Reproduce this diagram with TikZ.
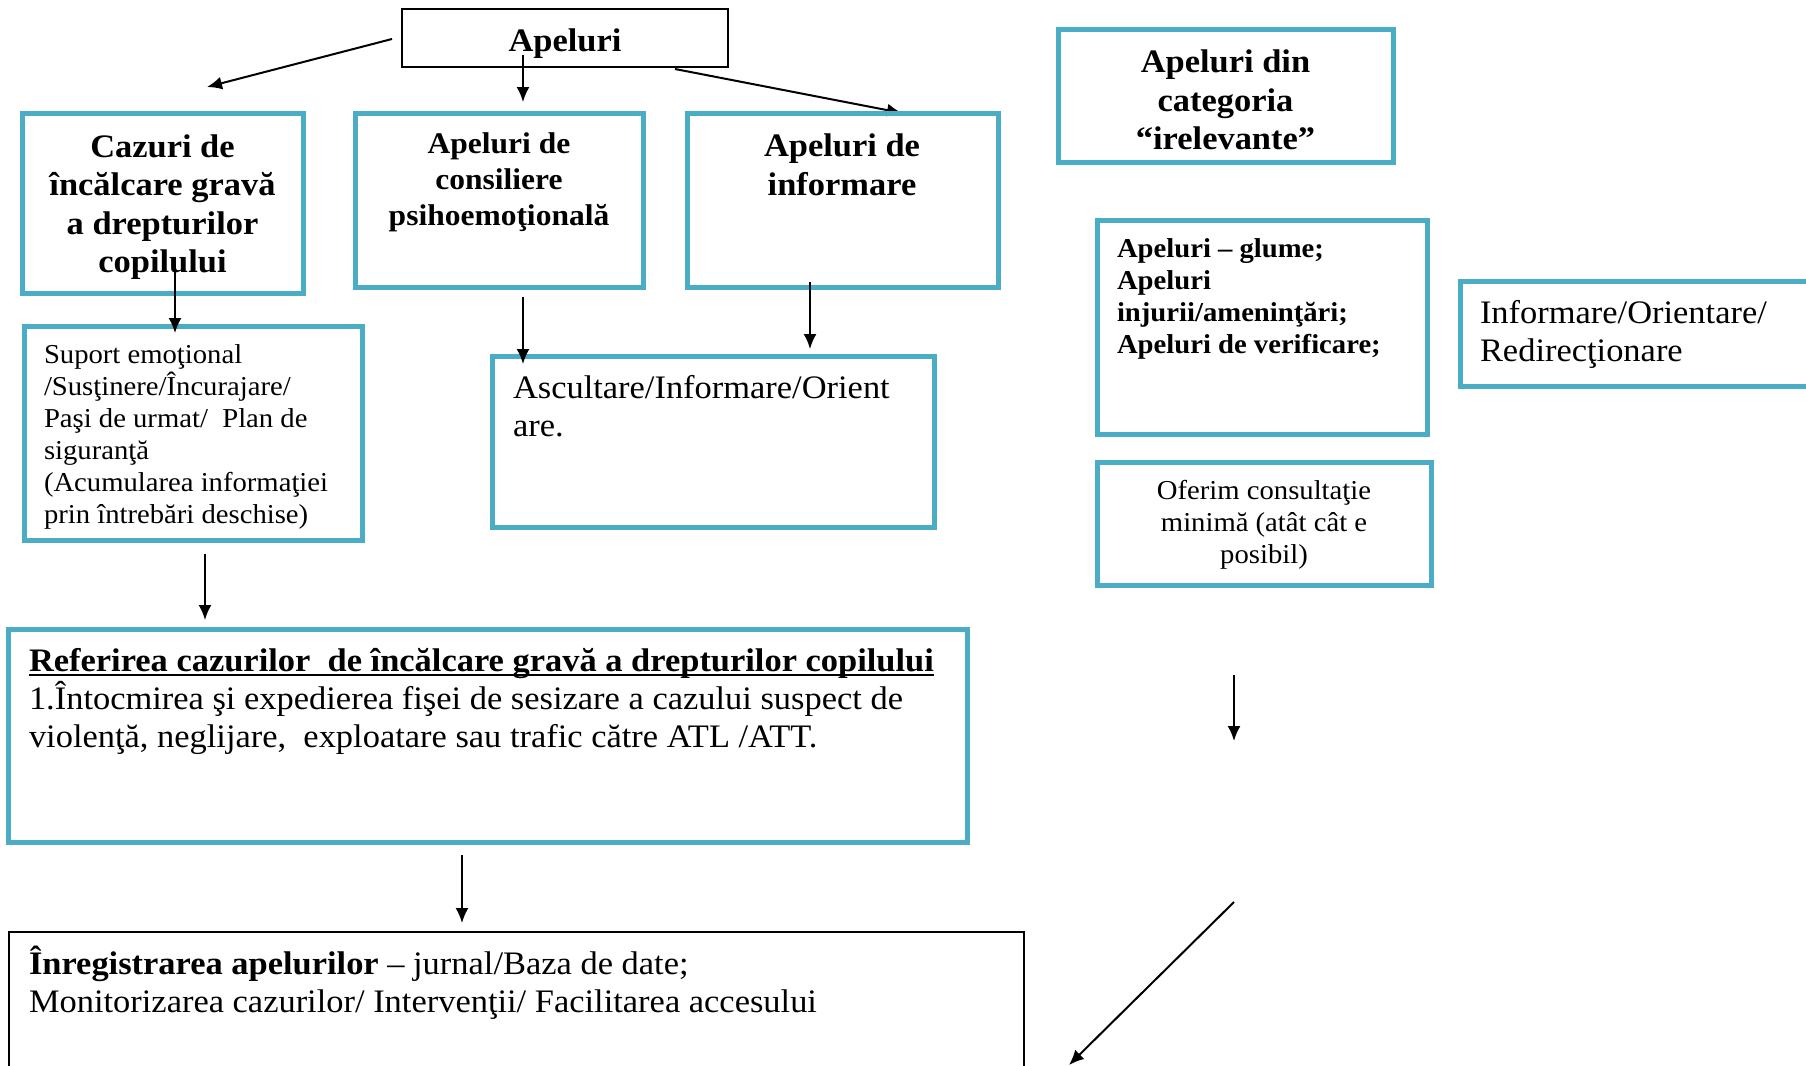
\documentclass[tikz,border=0pt]{standalone}
\usepackage{fontspec}
\setmainfont{Liberation Serif}[FakeStretch=1.05]
\usetikzlibrary{arrows.meta}
\definecolor{aqua}{HTML}{4BACC6}
\newcommand{\fBig}{\fontsize{32.8}{38.4}\selectfont}
\newcommand{\fMid}{\fontsize{30}{35.6}\selectfont}
\newcommand{\fSml}{\fontsize{27.3}{32}\selectfont}
\newcommand{\myul}[1]{\setbox0\hbox{#1}\rlap{\rule[-5pt]{\wd0}{2.2pt}}\box0}
\tikzset{
  cbox/.style={draw=aqua, line width=5pt, inner sep=0pt, align=center},
  kbox/.style={draw=black, line width=2pt, inner sep=0pt, align=center},
  arr/.style={-{Latex[length=15pt,width=13pt]}, line width=2pt},
  txt/.style={inner sep=0pt, outer sep=0pt},
}
\begin{document}
\begin{tikzpicture}[x=1pt,y=-1pt]
\useasboundingbox (0,0) rectangle (1806,1065);
% arrow partly behind the box border
\coordinate (c1) at (675,69);
\coordinate (c2) at (902,113);
\draw[arr] (c1) -- (c2);
% boxes
\node[kbox, minimum width=326, minimum height=58] (apel) at (565,38) {};
\node[cbox, minimum width=281, minimum height=180] (cazuri) at (162.5,203) {};
\node[cbox, minimum width=288, minimum height=174] (consil) at (499,200) {};
\node[cbox, minimum width=311, minimum height=174] (inform) at (842.5,200) {};
\node[cbox, minimum width=335, minimum height=132] (categ) at (1225.5,96) {};
\node[cbox, minimum width=330, minimum height=214] (glume) at (1262,327) {};
\node[cbox, minimum width=370, minimum height=105] (redir) at (1645,333.5) {};
\node[cbox, minimum width=334, minimum height=123] (oferim) at (1264,523.5) {};
\node[cbox, minimum width=338, minimum height=214] (suport) at (193,433) {};
\node[cbox, minimum width=442, minimum height=171] (ascult) at (713,441.5) {};
\node[cbox, minimum width=959, minimum height=213] (refer) at (487.5,735.5) {};
\node[kbox, minimum width=1015, minimum height=168] (inreg) at (516.5,1016) {};
% texts
\node[txt, align=center, font=\fBig\bfseries] (tapel) at (565,44) {Apeluri};
\node[txt, align=center, font=\fBig\bfseries] (tcazuri) at (162.5,207) {Cazuri de\\încălcare gravă\\a drepturilor\\copilului};
\node[txt, align=center, font=\fBig\bfseries] (tcateg) at (1225.5,100) {Apeluri din\\categoria\\“irelevante”};
\node[txt, align=center, font=\fSml] (toferim) at (1264,525) {Oferim consultaţie\\minimă (atât cât e\\posibil)};
\node[txt, anchor=north, align=center, font=\fMid\bfseries] (tconsil) at (499,133) {Apeluri de\\consiliere\\psihoemoţională};
\node[txt, anchor=north, align=center, font=\fBig\bfseries] (tinform) at (842,134) {Apeluri de\\informare};
\node[txt, anchor=north west, align=left, font=\fSml\bfseries] (tglume) at (1117,238.5) {Apeluri – glume;\\Apeluri\\injurii/ameninţări;\\Apeluri de verificare;};
\node[txt, anchor=north west, align=left, font=\fBig] (tredir) at (1480,300) {Informare/Orientare/\\Redirecţionare};
\node[txt, anchor=north west, align=left, font=\fSml] (tsuport) at (44,345) {Suport emoţional\\/Susţinere/Încurajare/\\Paşi de urmat/\ \ Plan de\\siguranţă\\(Acumularea informaţiei\\prin întrebări deschise)};
\node[txt, anchor=north west, align=left, font=\fBig] (tascult) at (513,375) {Ascultare/Informare/Orient\\are.};
\node[txt, anchor=north west, align=left, font=\fBig] (trefer) at (29,648) {\myul{\textbf{Referirea cazurilor\ \ de încălcare gravă a drepturilor copilului}}\\1.Întocmirea şi expedierea fişei de sesizare a cazului suspect de\\violenţă, neglijare,\ \ exploatare sau trafic către ATL /ATT.};
\node[txt, anchor=north west, align=left, font=\fBig] (tinreg) at (29,946) {\textbf{Înregistrarea apelurilor} – jurnal/Baza de date;\\Monitorizarea cazurilor/ Intervenţii/ Facilitarea accesului};
% connectors
\coordinate (a1) at (392,39);  \coordinate (a2) at (207,87);
\draw[arr] (a1) -- (a2);
\coordinate (b1) at (523,55);  \coordinate (b2) at (523,102);
\draw[arr] (b1) -- (b2);
\coordinate (d1) at (175,262); \coordinate (d2) at (175,333);
\draw[arr] (d1) -- (d2);
\coordinate (e1) at (523,297); \coordinate (e2) at (523,364);
\draw[arr] (e1) -- (e2);
\coordinate (f1) at (810,282); \coordinate (f2) at (810,349);
\draw[arr] (f1) -- (f2);
\coordinate (g1) at (205,554); \coordinate (g2) at (205,620);
\draw[arr] (g1) -- (g2);
\coordinate (h1) at (462,855); \coordinate (h2) at (462,923);
\draw[arr] (h1) -- (h2);
\coordinate (i1) at (1234,675); \coordinate (i2) at (1234,741);
\draw[arr] (i1) -- (i2);
\coordinate (j1) at (1234,902); \coordinate (j2) at (1069,1065);
\draw[arr] (j1) -- (j2);
\end{tikzpicture}
\end{document}
